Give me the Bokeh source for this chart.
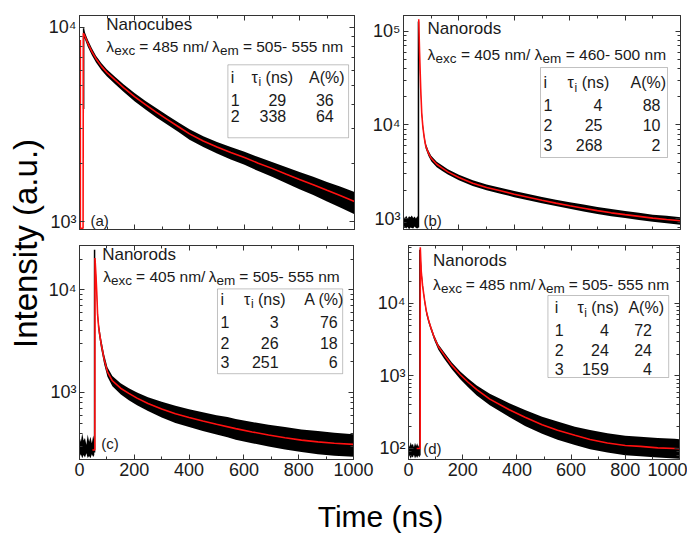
import math
from bokeh.plotting import figure
from bokeh.layouts import row, column
from bokeh.models import (Range1d, LinearAxis, LogAxis, FixedTicker,
                          CustomJSTickFormatter, Label, BoxAnnotation)
from bokeh.embed import file_html
from bokeh.resources import INLINE

# ---------------- data ----------------
x_ticks = [0, 200, 400, 600, 800, 1000]
x_minor = [100, 300, 500, 700, 900]
y_minor = [m * 10 ** k for k in range(1, 6) for m in range(2, 10)]

# (a) nanocubes, exc 485 / em 505-555
a_yticks = [1000, 10000]
a_pre_t = [0, 1, 2, 3]
a_pre_lo = [1090, 1100, 1085, 1100]
a_pre_hi = [1300, 1320, 1280, 1310]
a_spike_t = [15, 15]
a_spike_v = [3800, 9900]
a_band_t = [15, 20, 30, 45, 60, 80, 100, 130, 160, 200, 240, 280, 320, 360, 400, 450,
            500, 550, 600, 650, 700, 750, 800, 850, 900, 950, 1000]
a_band_hi = [9900, 9400, 8650, 7800, 7150, 6530, 6070, 5560, 5100, 4590, 4180, 3830, 3520,
             3240, 2990, 2750, 2570, 2420, 2290, 2150, 2030, 1910, 1800, 1700, 1600, 1510, 1420]
a_band_lo = [8900, 8650, 7950, 7180, 6600, 6020, 5590, 5100, 4660, 4170, 3780, 3440, 3150,
             2890, 2640, 2420, 2240, 2090, 1960, 1820, 1700, 1580, 1470, 1370, 1270, 1180, 1090]
a_fit_t = [3, 3, 13, 14, 15, 20, 30, 45, 60, 80, 100, 130, 160, 200, 240, 280, 320, 360, 400,
           450, 500, 550, 600, 650, 700, 750, 800, 850, 900, 950, 1000]
a_fit_v = [8600, 925, 925, 9300, 9300, 9000, 8300, 7500, 6900, 6300, 5850, 5350, 4900, 4400,
           4000, 3650, 3350, 3080, 2830, 2600, 2420, 2270, 2137, 2000, 1880, 1760, 1650, 1550,
           1450, 1360, 1270]
a_idx = ["1", "2"]
a_tau = ["29", "338"]
a_amp = ["36", "64"]

# (b) nanorods, exc 405 / em 460-500
b_yticks = [1000, 10000, 100000]
b_pre_t = [0, 5, 10, 15, 20, 25, 30, 35, 40, 45, 50, 54]
b_pre_hi = [1040, 1010, 1070, 1000, 1060, 1030, 1080, 1010, 1050, 1000, 1060, 1030]
b_pre_lo = [790, 820, 780, 810, 770, 800, 790, 780, 820, 790, 780, 800]
b_spike_t = [54, 54]
b_spike_v = [800, 128000]
b_band_t = [56, 60, 65, 70, 75, 80, 90, 100, 120, 140, 160, 200, 250, 300, 350, 400, 450,
            500, 550, 600, 650, 700, 750, 800, 850, 900, 950, 1000]
b_band_hi = [100000, 36000, 16000, 10300, 7800, 6400, 5350, 4700, 4050, 3680, 3360, 2940,
             2560, 2310, 2130, 1970, 1830, 1700, 1590, 1490, 1410, 1330, 1260, 1200, 1150,
             1100, 1070, 1030]
b_band_lo = [70000, 30000, 13500, 8900, 6800, 5600, 4650, 4100, 3540, 3220, 2950, 2570,
             2220, 2010, 1840, 1690, 1570, 1460, 1360, 1270, 1190, 1120, 1060, 1010, 965,
             925, 890, 860]
b_fit_t = [55, 58, 62, 66, 70, 75, 80, 90, 100, 120, 140, 160, 200, 250, 300, 350, 400, 450,
           500, 550, 600, 650, 700, 750, 800, 850, 900, 950, 1000]
b_fit_v = [135000, 60000, 25000, 13000, 9500, 7300, 6000, 5000, 4400, 3800, 3450, 3150, 2750,
           2380, 2150, 1980, 1820, 1690, 1570, 1460, 1370, 1290, 1215, 1150, 1100, 1055, 1010,
           975, 945]
b_idx = ["1", "2", "3"]
b_tau = ["4", "25", "268"]
b_amp = ["88", "10", "2"]

# (c) nanorods, exc 405 / em 505-555
c_yticks = [1000, 10000]
c_pre_t = [0, 5, 10, 15, 20, 25, 30, 35, 40, 45, 50, 54]
c_pre_hi = [370, 330, 400, 340, 360, 310, 390, 330, 370, 320, 380, 340]
c_pre_lo = [235, 250, 228, 245, 232, 255, 230, 240, 228, 250, 235, 245]
c_spike_t = [55, 55]
c_spike_v = [260, 24700]
c_band_t = [57, 60, 63, 66, 70, 78, 90, 102, 120, 150, 180, 210, 250, 300, 350, 400, 450,
            500, 540, 570, 630, 690, 750, 810, 870, 930, 1000]
c_band_hi = [19000, 15000, 10500, 6400, 4800, 3450, 2350, 1760, 1450, 1230, 1100, 1000, 900,
             810, 740, 685, 640, 600, 575, 550, 515, 485, 460, 435, 420, 405, 392]
c_band_lo = [15000, 12500, 8600, 5200, 3800, 2750, 1880, 1420, 1150, 960, 840, 750, 660, 570,
             505, 460, 420, 390, 365, 345, 320, 298, 278, 262, 250, 242, 236]
c_fit_t = [47, 56, 56.5, 60, 63, 66, 70, 78, 90, 102, 120, 150, 180, 210, 250, 300, 350, 400,
           450, 500, 570, 630, 690, 750, 810, 870, 930, 1000]
c_fit_v = [275, 275, 20500, 14000, 9500, 5800, 4300, 3100, 2100, 1590, 1300, 1100, 980, 881,
           780, 690, 620, 570, 526, 490, 444, 412, 385, 362, 343, 330, 320, 312]
c_idx = ["1", "2", "3"]
c_tau = ["3", "26", "251"]
c_amp = ["76", "18", "6"]

# (d) nanorods, exc 485 / em 505-555
d_yticks = [100, 1000, 10000]
d_pre_t = [0, 4, 8, 12, 16, 20, 24, 28, 32, 36, 40, 42]
d_pre_hi = [118, 105, 122, 110, 116, 104, 120, 108, 118, 106, 115, 110]
d_pre_lo = [74, 80, 72, 78, 75, 82, 73, 79, 74, 80, 76, 78]
d_spike_t = [42, 42]
d_spike_v = [80, 55000]
d_band_t = [45, 50, 55, 60, 66, 75, 83, 95, 110, 131, 160, 191, 220, 252, 300, 340, 372, 430,
            493, 550, 614, 670, 734, 800, 855, 920, 982, 1000]
d_band_hi = [45000, 24000, 16000, 11500, 8300, 6100, 4900, 3650, 2750, 2150, 1540, 1150, 920,
             740, 570, 480, 420, 340, 275, 235, 200, 180, 162, 150, 145, 140, 136, 134]
d_band_lo = [38000, 20000, 13500, 9600, 7000, 5200, 4200, 3100, 2300, 1750, 1240, 900, 700,
             540, 395, 320, 272, 205, 160, 132, 112, 98, 88, 81, 78, 75, 73, 72]
d_fit_t = [30, 43, 43.5, 47, 52, 59, 66, 75, 83, 95, 110, 131, 160, 191, 220, 252, 300, 372,
           430, 493, 550, 614, 670, 734, 800, 855, 920, 982, 1000]
d_fit_v = [100, 100, 59600, 27700, 17500, 11300, 7800, 5700, 4590, 3400, 2550, 1970, 1400,
           1040, 820, 647, 480, 343, 270, 213, 178, 152, 133, 119, 110, 107, 102, 100, 99]
d_idx = ["1", "2", "3"]
d_tau = ["4", "24", "159"]
d_amp = ["72", "24", "4"]

titles = ["Nanocubes", "Nanorods", "Nanorods", "Nanorods"]
exc_nm = ["485", "405", "405", "485"]
em_nm = ["505- 555", "460- 500", "505- 555", "505- 555"]
tags = ["(a)", "(b)", "(c)", "(d)"]
amp_heads = ["A(%)", "A(%)", "A (%)", "A(%)"]
x_title = "Time (ns)"
y_title = "Intensity (a.u.)"

# ---------------- styling / layout ----------------
FONT = "Liberation Sans"
TXT = "#1a1a1a"
FR = "#333333"
RED = "#ff1010"
MID = 0.35  # baseline -> middle-of-box offset, in em

# frame positions in page pixels, borders, axis ranges
PANELS = [
    dict(L=76, T=13, W=278, H=217, ymin=911, ymax=11510, lb=31, rb=6, tb=13, bb=8,
         title=(103, 28), lam=(103, 50), tag=(87, 226), box=(226, 348, 63, 137),
         hdr=81, rows=[104, 121], xi=229, xtau=250, xA=308, rtau=285, rA=333),
    dict(L=403, T=15, W=277, H=214, ymin=763, ymax=148000, lb=43, rb=8, tb=15, bb=9,
         title=(427, 34), lam=(427, 59), tag=(423, 225), box=(540, 667, 67, 157),
         hdr=88, rows=[110, 130, 150], xi=543, xtau=567, xA=630, rtau=602, rA=660),
    dict(L=75, T=242, W=278, H=217, ymin=222, ymax=27100, lb=30, rb=21, tb=4, bb=26,
         title=(98, 257), lam=(99, 279), tag=(97, 448), box=(215, 342, 286, 372),
         hdr=302, rows=[325, 346, 366], xi=218, xtau=242, xA=303, rtau=277, rA=337),
    dict(L=403, T=245, W=276, H=214, ymin=70.5, ymax=63100, lb=29, rb=8, tb=7, bb=26,
         title=(428, 266), lam=(428, 289), tag=(418, 453), box=(545, 668, 295, 377),
         hdr=313, rows=[335, 355, 374], xi=552, xtau=575, xA=627, rtau=607, rA=651),
]

AW = {' ': 0.278, '=': 0.584, '/': 0.278, '-': 0.333, '(': 0.333, ')': 0.333, '%': 0.889,
      'a': 0.556, 'b': 0.556, 'c': 0.5, 'd': 0.556, 'e': 0.556, 'm': 0.833, 'n': 0.556,
      'o': 0.556, 'r': 0.333, 's': 0.5, 'u': 0.556, 'x': 0.5, 'i': 0.222, 'A': 0.667,
      'N': 0.722, 'λ': 0.52, 'τ': 0.44}


def tw(s, size):
    return sum(AW.get(c, 0.556) for c in s) * size


SUP_JS = """
const s = {'0':'\u2070','1':'\u00b9','2':'\u00b2','3':'\u00b3','4':'\u2074','5':'\u2075','6':'\u2076','7':'\u2077','8':'\u2078','9':'\u2079'};
const e = Math.round(Math.log10(tick));
return '10' + String(e).split('').map(c => s[c]).join('');
"""
BLANK_JS = "return '';"


def style_axis(ax, show):
    ax.axis_line_color = FR
    ax.major_tick_line_color = FR
    ax.minor_tick_line_color = FR
    ax.major_tick_in = 5
    ax.major_tick_out = 0
    ax.minor_tick_in = 3
    ax.minor_tick_out = 0
    if show:
        ax.major_label_text_font = FONT
        ax.major_label_text_font_size = "18px"
        ax.major_label_text_color = TXT
        ax.major_label_standoff = 3
    else:
        ax.formatter = CustomJSTickFormatter(code=BLANK_JS)
        ax.major_label_text_font_size = "0px"
        ax.major_label_standoff = 0


def make_panel(P, k, show_x, yticks, pre, spike, band, fit, idx, tau, amp):
    p = figure(width=P['lb'] + P['W'] + P['rb'], height=P['tb'] + P['H'] + P['bb'],
               x_range=Range1d(0, 1000), y_range=Range1d(P['ymin'], P['ymax']),
               y_axis_type="log", x_axis_location=None, y_axis_location=None,
               output_backend="svg", toolbar_location=None,
               min_border_left=P['lb'], min_border_right=P['rb'],
               min_border_top=P['tb'], min_border_bottom=P['bb'])
    p.grid.visible = False
    p.outline_line_color = FR
    p.background_fill_color = "white"
    p.border_fill_color = "white"

    xt = FixedTicker(ticks=x_ticks, minor_ticks=x_minor)
    yt = FixedTicker(ticks=yticks, minor_ticks=y_minor)
    bottom = LinearAxis(ticker=xt)
    top = LinearAxis(ticker=xt)
    left = LogAxis(ticker=yt, formatter=CustomJSTickFormatter(code=SUP_JS))
    right = LogAxis(ticker=yt)
    style_axis(bottom, show_x)
    style_axis(top, False)
    style_axis(left, True)
    style_axis(right, False)
    p.add_layout(bottom, "below")
    p.add_layout(top, "above")
    p.add_layout(left, "left")
    p.add_layout(right, "right")

    # measured data: noise envelopes + fit
    p.varea(x=pre[0], y1=pre[1], y2=pre[2], fill_color="black")
    p.varea(x=band[0], y1=band[1], y2=band[2], fill_color="black")
    p.line(spike[0], spike[1], line_color="black", line_width=1.5)
    p.line(fit[0], fit[1], line_color=RED, line_width=1.6)

    ly0, ly1 = math.log10(P['ymin']), math.log10(P['ymax'])

    def to_data(px, py):
        x = (px - P['L']) / P['W'] * 1000.0
        ly = ly1 - (py - P['T']) / P['H'] * (ly1 - ly0)
        return x, 10 ** ly

    def put(px, py, text, size, align="left"):
        # py is the wanted baseline; anchor the middle of the text box
        x, y = to_data(px, py - MID * size)
        p.add_layout(Label(x=x, y=y, text=text, text_font=FONT,
                           text_font_size=f"{size}px", text_align=align,
                           text_baseline="middle", text_color=TXT))

    # title lines
    put(P['title'][0], P['title'][1], titles[k], 17)
    F, Fs, dsub = 15.5, 13.5, 3.5
    x, y = P['lam']
    put(x, y, "λ", F); x += tw("λ", F)
    put(x, y + dsub, "exc", Fs); x += tw("exc", Fs) + tw(" ", F)
    s1 = f"= {exc_nm[k]} nm/"
    put(x, y, s1, F); x += tw(s1, F) + tw(" ", F)
    put(x, y, "λ", F); x += tw("λ", F)
    put(x, y + dsub, "em", Fs); x += tw("em", Fs) + tw(" ", F)
    put(x, y, f"= {em_nm[k]} nm", F)

    # panel tag
    put(P['tag'][0], P['tag'][1], tags[k], 15)

    # table
    l, r, t, b = P['box']
    (xl, yt_), (xr, yb) = to_data(l, t), to_data(r, b)
    p.add_layout(BoxAnnotation(left=xl, right=xr, top=yt_, bottom=yb,
                               fill_alpha=0, line_color=FR, line_width=1))
    TF, TS = 16, 12
    put(P['xi'], P['hdr'], "i", TF)
    xx = P['xtau']
    put(xx, P['hdr'], "τ", TF); xx += tw("τ", TF)
    put(xx, P['hdr'] + 3.5, "i", TS); xx += tw("i", TS) + tw(" ", TF)
    put(xx, P['hdr'], "(ns)", TF)
    put(P['xA'], P['hdr'], amp_heads[k], TF)
    for j, yy in enumerate(P['rows']):
        put(P['xi'], yy, idx[j], TF)
        put(P['rtau'], yy, tau[j], TF, "right")
        put(P['rA'], yy, amp[j], TF, "right")
    return p


pa = make_panel(PANELS[0], 0, False, a_yticks, (a_pre_t, a_pre_lo, a_pre_hi),
                (a_spike_t, a_spike_v), (a_band_t, a_band_lo, a_band_hi),
                (a_fit_t, a_fit_v), a_idx, a_tau, a_amp)
pb = make_panel(PANELS[1], 1, False, b_yticks, (b_pre_t, b_pre_lo, b_pre_hi),
                (b_spike_t, b_spike_v), (b_band_t, b_band_lo, b_band_hi),
                (b_fit_t, b_fit_v), b_idx, b_tau, b_amp)
pc = make_panel(PANELS[2], 2, True, c_yticks, (c_pre_t, c_pre_lo, c_pre_hi),
                (c_spike_t, c_spike_v), (c_band_t, c_band_lo, c_band_hi),
                (c_fit_t, c_fit_v), c_idx, c_tau, c_amp)
pd_ = make_panel(PANELS[3], 3, True, d_yticks, (d_pre_t, d_pre_lo, d_pre_hi),
                 (d_spike_t, d_spike_v), (d_band_t, d_band_lo, d_band_hi),
                 (d_fit_t, d_fit_v), d_idx, d_tau, d_amp)

# y-axis title strip (page is drawn from its top-left corner)
YW, YH = 45, 485
ylab = figure(width=YW, height=YH, x_range=Range1d(0, YW), y_range=Range1d(0, YH),
              x_axis_location=None, y_axis_location=None, output_backend="svg",
              toolbar_location=None, min_border=0)
ylab.grid.visible = False
ylab.outline_line_color = None
ylab.add_layout(Label(x=37 - MID * 33, y=YH - 243, text=y_title, angle=math.pi / 2,
                      text_align="center", text_baseline="middle",
                      text_font=FONT, text_font_size="33px", text_color="black"))

# x-axis title strip
XW, XH = 687, 49
xlab = figure(width=XW, height=XH, x_range=Range1d(0, XW), y_range=Range1d(0, XH),
              x_axis_location=None, y_axis_location=None, output_backend="svg",
              toolbar_location=None, min_border=0)
xlab.grid.visible = False
xlab.outline_line_color = None
xlab.add_layout(Label(x=380, y=XH - (526 - 485) + MID * 30, text=x_title,
                      text_align="center", text_baseline="middle", text_font=FONT,
                      text_font_size="30px", text_color="black"))

layout = column(row(ylab, column(row(pa, pb), row(pc, pd_))), xlab)

with open("out.html", "w", encoding="utf-8") as f:
    f.write(file_html(layout, INLINE))
